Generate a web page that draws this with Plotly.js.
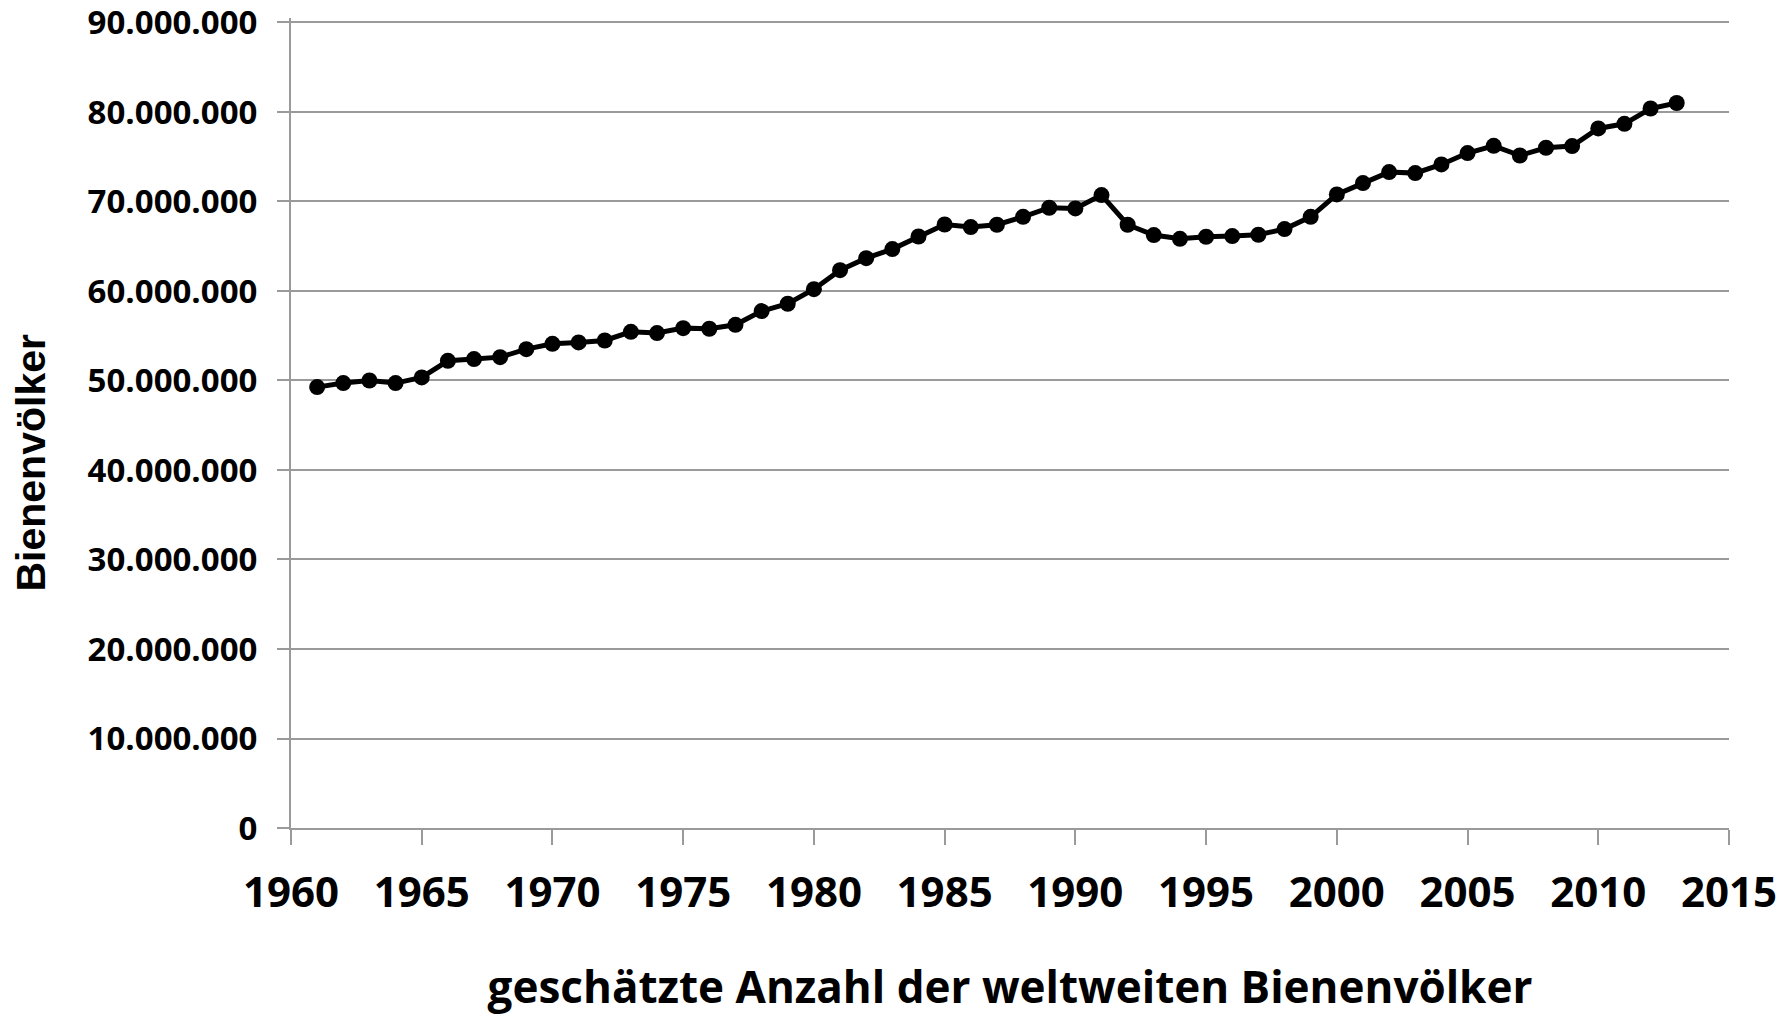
<!DOCTYPE html>
<html>
<head>
<meta charset="utf-8">
<script src="https://cdn.plot.ly/plotly-3.0.1.min.js"></script>
<style>html,body{margin:0;padding:0;background:#fff;}#chart{width:1791px;height:1016px;}</style>
</head>
<body>
<div id="chart"></div>
<script>
// Years 1961–2013
const years = [1961,1962,1963,1964,1965,1966,1967,1968,1969,1970,
  1971,1972,1973,1974,1975,1976,1977,1978,1979,1980,
  1981,1982,1983,1984,1985,1986,1987,1988,1989,1990,
  1991,1992,1993,1994,1995,1996,1997,1998,1999,2000,
  2001,2002,2003,2004,2005,2006,2007,2008,2009,2010,
  2011,2012,2013];
// Estimated number of bee colonies worldwide
const colonies = [49260000,49710000,50000000,49710000,50340000,52200000,52390000,52610000,53500000,54100000,
  54250000,54470000,55440000,55300000,55850000,55780000,56220000,57750000,58570000,60200000,
  62330000,63670000,64680000,66090000,67430000,67140000,67400000,68290000,69300000,69220000,
  70720000,67400000,66250000,65830000,66060000,66130000,66280000,66920000,68290000,70790000,
  72060000,73280000,73170000,74140000,75410000,76220000,75140000,76000000,76190000,78160000,
  78680000,80390000,81000000];
const xTitle = 'geschätzte Anzahl der weltweiten Bienenvölker';
const yTitle = 'Bienenvölker';

const gray = '#9a9a9a';
const trace = {
  x: years, y: colonies, type: 'scatter', mode: 'lines+markers',
  line: {color: '#000', width: 5},
  marker: {color: '#000', size: 16},
  hoverinfo: 'x+y'
};
const layout = {
  width: 1791, height: 1016,
  margin: {l: 291, r: 62, t: 18, b: 188, pad: 0},
  paper_bgcolor: '#fff', plot_bgcolor: '#fff',
  separators: ',.',
  showlegend: false,
  font: {family: '"Open Sans", sans-serif', color: '#000'},
  xaxis: {
    range: [1960, 2015], dtick: 5, tick0: 1960,
    showgrid: false, zeroline: false,
    showline: true, linecolor: gray, linewidth: 2,
    ticks: 'outside', ticklen: 15, tickwidth: 2, tickcolor: gray,
    tickfont: {family: '"Open Sans", sans-serif', size: 42, color: '#000', weight: 'bold'},
    ticklabelstandoff: 12,
    ticklabeloverflow: 'allow',
    title: {text: xTitle, font: {family: '"Open Sans", sans-serif', size: 44, color: '#000', weight: 'bold'}, standoff: 57}
  },
  yaxis: {
    range: [0, 90500000], dtick: 10000000, tick0: 0,
    tickformat: ',d',
    showgrid: true, gridcolor: gray, gridwidth: 2,
    zeroline: false,
    showline: true, linecolor: gray, linewidth: 2,
    ticks: 'outside', ticklen: 12, tickwidth: 2, tickcolor: gray,
    tickfont: {family: '"Open Sans", sans-serif', size: 33, color: '#000', weight: 'bold'},
    ticklabelstandoff: 13,
    ticklabeloverflow: 'allow'
  },
  annotations: [{
    text: yTitle, xref: 'paper', yref: 'paper',
    x: -0.1808, y: 0.4512, xanchor: 'center', yanchor: 'middle',
    textangle: -90, showarrow: false,
    font: {family: '"Liberation Sans", Arial, sans-serif', size: 41, color: '#000', weight: 'bold'}
  }]
};
Plotly.newPlot('chart', [trace], layout, {displayModeBar: false, responsive: false});
</script>
</body>
</html>
